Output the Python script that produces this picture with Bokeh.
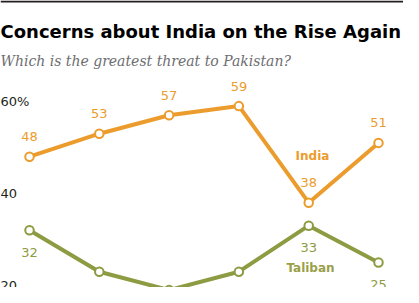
from bokeh.plotting import figure
from bokeh.models import Range1d, Label, BoxAnnotation
from bokeh.core.properties import value
from bokeh.embed import file_html
from bokeh.resources import INLINE

# ---- data ----
years = [2009, 2010, 2011, 2012, 2013, 2014]
india = [48, 53, 57, 59, 38, 51]
taliban = [32, 23, 19, 23, 33, 25]
india_labels = ["48", "53", "57", "59", "38", "51"]
taliban_labels = ["32", "", "", "", "33", "25"]   # middle labels fall outside the crop
tick_values = [60, 40, 20]
tick_labels = ["60%", "40", "20"]
title_text = "Concerns about India on the Rise Again"
subtitle_text = "Which is the greatest threat to Pakistan?"

# ---- layout ----
W, H = 403, 287
XPX = 69.8   # px per year
YPX = 4.6    # px per percentage point
x_start = years[0] - 29 / XPX
x_end = x_start + W / XPX
y_top = 60 + 101 / YPX
y_bot = y_top - H / YPX

def dx(px):
    return x_start + px / XPX

def dy(py):
    return y_top - py / YPX

ORANGE = "#EB9C2C"
OLIVE = "#8D9B42"

p = figure(width=W, height=H, output_backend="svg", toolbar_location=None,
           x_range=Range1d(x_start, x_end), y_range=Range1d(y_bot, y_top),
           x_axis_type=None, y_axis_type=None, min_border=0)
p.grid.visible = False
p.outline_line_color = None
p.background_fill_color = "white"
p.border_fill_color = "white"

# top rule
p.add_layout(BoxAnnotation(top=dy(0), bottom=dy(2), fill_color="#231F20", fill_alpha=1,
                           line_color=None))

# title / subtitle
p.add_layout(Label(x=dx(0), y=dy(31), text=title_text, text_font="DejaVu Sans",
                   text_font_style="bold", text_font_size="18px", text_color="#000000",
                   text_baseline="alphabetic"))
p.add_layout(Label(x=dx(0), y=dy(60.5), text=subtitle_text, text_font="DejaVu Serif",
                   text_font_style="italic", text_font_size="14px", text_color="#6D6E71",
                   text_baseline="alphabetic"))

# y tick labels
p.text(x=[dx(0)] * len(tick_values), y=tick_values, text=tick_labels,
       text_font=value("DejaVu Sans"), text_font_size="13px", text_color="#231F20",
       text_baseline="middle", text_align="left")

# lines
p.line(years, india, line_color=ORANGE, line_width=4, line_join="round")
p.scatter(years, india, size=8.5, fill_color="white", line_color=ORANGE, line_width=2)
p.line(years, taliban, line_color=OLIVE, line_width=4, line_join="round")
p.scatter(years, taliban, size=8.5, fill_color="white", line_color=OLIVE, line_width=2)

# data labels
p.text(x=years, y=india, text=india_labels, y_offset=-20,
       text_font=value("DejaVu Sans"), text_font_size="13px", text_color=ORANGE,
       text_baseline="middle", text_align="center")
p.text(x=years, y=taliban, text=taliban_labels, y_offset=22,
       text_font=value("DejaVu Sans"), text_font_size="13px", text_color=OLIVE,
       text_baseline="middle", text_align="center")

# series labels
p.add_layout(Label(x=dx(312), y=dy(155), text="India", text_font="DejaVu Sans",
                   text_font_style="bold", text_font_size="12px", text_color=ORANGE,
                   text_align="center", text_baseline="middle"))
p.add_layout(Label(x=dx(310), y=dy(267), text="Taliban", text_font="DejaVu Sans",
                   text_font_style="bold", text_font_size="12px", text_color="#9AA04A",
                   text_align="center", text_baseline="middle"))

open("out.html", "w").write(file_html(p, INLINE))
